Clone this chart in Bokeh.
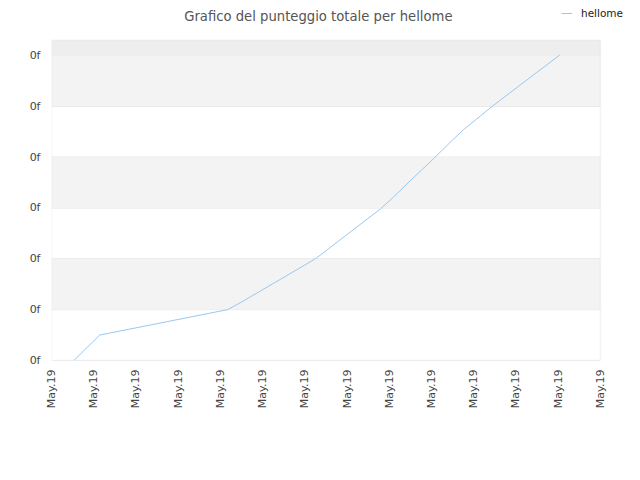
from bokeh.plotting import figure
from bokeh.models import Range1d, FixedTicker, BoxAnnotation, Legend, LegendItem, Label
from bokeh.embed import file_html
from bokeh.resources import INLINE
import math

# ---- data ----
x_vals = [0.53, 1.14, 4.17, 4.48, 6.25, 7.79, 8.07, 8.54, 9.05, 9.49, 9.76, 10.47, 12.04]
y_vals = [0.0, 0.50, 1.00, 1.14, 2.00, 2.98, 3.19, 3.57, 3.97, 4.33, 4.54, 5.02, 6.01]
x_ticks = list(range(0, 14))
x_tick_labels = ["May.19"] * len(x_ticks)
y_ticks = [0, 1, 2, 3, 4, 5, 6]
y_tick_labels = ["0f"] * len(y_ticks)
series_name = "hellome"
title_text = "Grafico del punteggio totale per hellome"

FONT = "DejaVu Sans"
GRID = "#e0e0e0"
BORDER = "#dcdcdc"
LINE = "#99c7f3"

X_MAX = 13.0          # right edge of plot area
X_CANVAS_RIGHT = 13.76  # frame extended to the right edge of the canvas (legend region)
Y_AREA_TOP = 6.3      # top of plot area
Y_CANVAS_TOP = 7.08   # frame extended up to the top of the canvas (title/legend region)

p = figure(width=632, height=472, output_backend="svg", toolbar_location=None,
           x_range=Range1d(0, X_CANVAS_RIGHT), y_range=Range1d(0, Y_CANVAS_TOP),
           min_border_left=51, min_border_right=0, min_border_top=0, min_border_bottom=112,
           title_location=None)

p.background_fill_color = "white"
p.border_fill_color = "white"
p.outline_line_color = None

# bands
p.add_layout(BoxAnnotation(left=0, right=X_MAX, bottom=y_ticks[-1], top=Y_AREA_TOP,
                           fill_color="#eeeeee", fill_alpha=1.0, line_color=None, level="underlay"))
for i in range(1, len(y_ticks) - 1, 2):
    p.add_layout(BoxAnnotation(left=0, right=X_MAX, bottom=y_ticks[i], top=y_ticks[i + 1],
                               fill_color="#f3f3f3", fill_alpha=1.0, line_color=None, level="underlay"))

# horizontal grid lines limited to the plot area
p.xgrid.visible = False
p.ygrid.visible = False
p.segment(x0=[0] * len(y_ticks), x1=[X_MAX] * len(y_ticks), y0=y_ticks, y1=y_ticks,
          line_color=GRID, line_width=1, level="underlay")

# plot-area border
p.add_layout(BoxAnnotation(left=0, right=X_MAX, bottom=0, top=Y_AREA_TOP, fill_alpha=0,
                           line_color=BORDER, line_width=1.5, level="underlay"))

for ax in (p.xaxis[0], p.yaxis[0]):
    ax.axis_line_color = None
    ax.major_tick_line_color = None
    ax.minor_tick_line_color = None
    ax.major_tick_out = 0
    ax.major_tick_in = 0
    ax.major_label_text_font = FONT
    ax.major_label_text_font_size = "11px"
    ax.major_label_text_color = "#444444"

p.xaxis.ticker = FixedTicker(ticks=x_ticks)
p.xaxis.major_label_overrides = {t: l for t, l in zip(x_ticks, x_tick_labels)}
p.xaxis.major_label_orientation = math.pi / 2
p.xaxis.major_label_standoff = 9

p.yaxis.ticker = FixedTicker(ticks=y_ticks)
p.yaxis.major_label_overrides = {t: l for t, l in zip(y_ticks, y_tick_labels)}
p.yaxis.major_label_standoff = 11

r = p.line(x_vals, y_vals, line_color=LINE, line_width=1)

# title drawn inside the (extended) frame
p.add_layout(Label(x=6.32, y=6.77, text=title_text, text_align="center", text_baseline="alphabetic",
                   text_font=FONT, text_font_size="13.2px", text_color="#555555"))

legend = Legend(items=[LegendItem(label=series_name, renderers=[r])],
                location=(510, 341), orientation="horizontal",
                glyph_width=11, glyph_height=10, label_height=10, label_standoff=9,
                padding=0, margin=0, spacing=0, border_line_color=None, background_fill_alpha=0,
                label_text_font=FONT, label_text_font_size="10.5px", label_text_color="#222222")
p.add_layout(legend, "center")

open("out.html", "w").write(file_html(p, INLINE))
